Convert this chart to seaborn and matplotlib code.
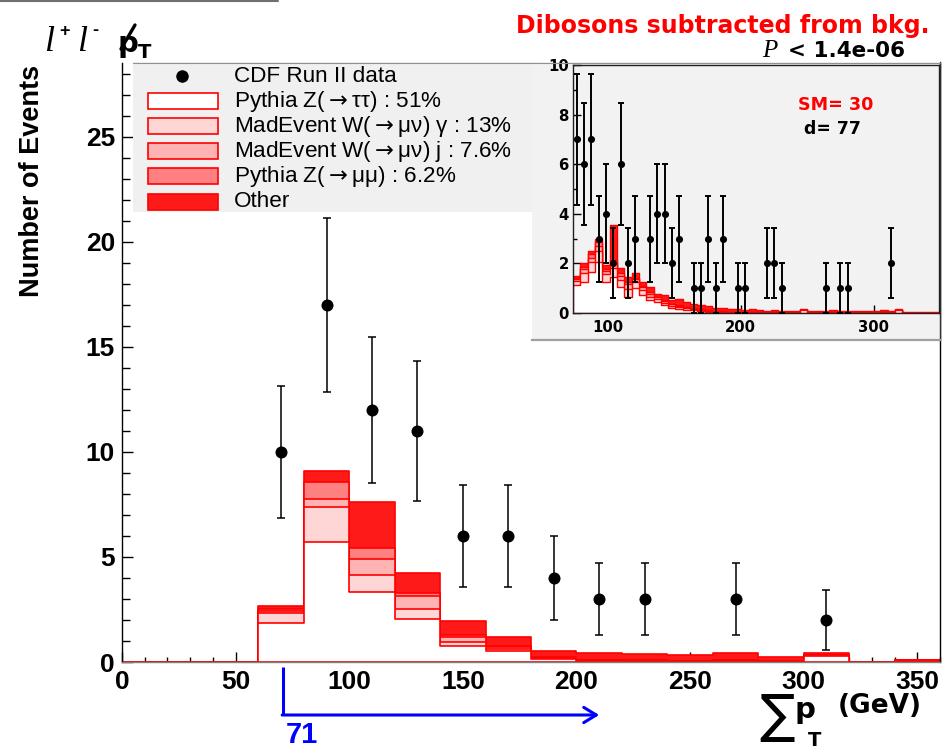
import numpy as np
import matplotlib
matplotlib.use("Agg")
import matplotlib.pyplot as plt
import matplotlib.transforms as mtransforms
from matplotlib.lines import Line2D
from matplotlib.patches import Rectangle
from matplotlib.ticker import MultipleLocator
import seaborn as sns

# ---------------------------------------------------------------- data
# main panel: 20 GeV bins from 0 to 360 GeV
main_edges = np.arange(0, 361, 20)
data_counts = [0, 0, 0, 10, 17, 12, 11, 6, 6, 4, 3, 3, 0, 3, 0, 2, 0, 0]
bkg_ztautau = [0, 0, 0, 1.84, 5.73, 3.35, 2.03, 0.76, 0.54, 0.13, 0.05, 0.04, 0.03, 0.05, 0.03, 0.29, 0.00, 0.07]
bkg_wgamma = [0, 0, 0, 0.48, 1.64, 0.81, 0.48, 0.21, 0.08, 0.04, 0.02, 0.02, 0.01, 0.02, 0.01, 0.02, 0.00, 0.01]
bkg_wjet = [0, 0, 0, 0.12, 0.38, 0.74, 0.63, 0.24, 0.08, 0.04, 0.02, 0.01, 0.01, 0.01, 0.00, 0.02, 0.00, 0.01]
bkg_zmumu = [0, 0, 0, 0.10, 0.84, 0.51, 0.13, 0.08, 0.06, 0.02, 0.01, 0.01, 0.00, 0.00, 0.00, 0.00, 0.00, 0.00]
bkg_other = [0, 0, 0, 0.13, 0.51, 2.21, 0.95, 0.65, 0.45, 0.31, 0.34, 0.32, 0.28, 0.34, 0.18, 0.08, 0.02, 0.01]

# inset: 5.5 GeV bins from 74 to 349 GeV
inset_edges = np.linspace(74, 349, 51)
inset_counts = [7, 6, 7, 3, 4, 2, 6, 2, 3, 0,
                3, 4, 4, 2, 3, 0, 1, 1, 3, 1,
                3, 0, 1, 1, 0, 0, 2, 2, 1, 0,
                0, 0, 0, 0, 1, 0, 1, 1, 0, 0,
                0, 0, 0, 2, 0, 0, 0, 0, 0, 0]
inset_ztautau = [1.12, 1.26, 1.66, 2.07, 1.26, 1.46, 1.05, 0.65, 1.00, 0.72,
                 0.51, 0.45, 0.31, 0.22, 0.18, 0.14, 0.11, 0.10, 0.06, 0.05,
                 0.04, 0.03, 0.03, 0.02, 0.02, 0.02, 0.01, 0.02, 0.01, 0.02,
                 0.01, 0.12, 0.02, 0.01, 0.02, 0.04, 0.02, 0.01, 0.01, 0.03,
                 0.02, 0.01, 0.06, 0.02, 0.12, 0.01, 0.01, 0.02, 0.01, 0.01]
inset_wgamma = [0.18, 0.35, 0.40, 0.45, 0.30, 0.35, 0.30, 0.30, 0.25, 0.20,
                0.15, 0.10, 0.10, 0.08, 0.06, 0.05, 0.04, 0.03, 0.03, 0.02,
                0.02, 0.02, 0.01, 0.01, 0.01, 0.01, 0.01, 0.01, 0.00, 0.01,
                0.00, 0.01, 0.01, 0.00, 0.01, 0.01, 0.01, 0.00, 0.00, 0.01,
                0.00, 0.00, 0.01, 0.00, 0.01, 0.00, 0.00, 0.00, 0.00, 0.00]
inset_wjet = [0.08, 0.15, 0.15, 0.18, 0.12, 0.20, 0.15, 0.20, 0.12, 0.12,
              0.12, 0.08, 0.08, 0.06, 0.05, 0.04, 0.03, 0.03, 0.02, 0.02,
              0.01, 0.01, 0.01, 0.01, 0.01, 0.00, 0.00, 0.00, 0.00, 0.00,
              0.00, 0.01, 0.00, 0.00, 0.00, 0.00, 0.00, 0.00, 0.00, 0.00,
              0.00, 0.00, 0.01, 0.00, 0.00, 0.00, 0.00, 0.00, 0.00, 0.00]
inset_zmumu = [0.05, 0.10, 0.15, 0.15, 0.10, 0.14, 0.10, 0.08, 0.05, 0.05,
               0.05, 0.03, 0.03, 0.02, 0.02, 0.02, 0.01, 0.01, 0.01, 0.01,
               0.01, 0.00, 0.00, 0.00, 0.00, 0.00, 0.00, 0.00, 0.00, 0.00,
               0.00, 0.00, 0.00, 0.00, 0.00, 0.00, 0.00, 0.00, 0.00, 0.00,
               0.00, 0.00, 0.00, 0.00, 0.00, 0.00, 0.00, 0.00, 0.00, 0.00]
inset_other = [0.06, 0.14, 0.14, 0.15, 0.15, 1.40, 0.20, 0.23, 0.20, 0.17,
               0.20, 0.12, 0.20, 0.13, 0.27, 0.20, 0.19, 0.17, 0.15, 0.12,
               0.14, 0.12, 0.11, 0.10, 0.11, 0.09, 0.08, 0.08, 0.08, 0.07,
               0.08, 0.04, 0.07, 0.07, 0.07, 0.07, 0.07, 0.07, 0.06, 0.06,
               0.06, 0.06, 0.06, 0.06, 0.04, 0.04, 0.03, 0.04, 0.04, 0.03]

legend_labels = ["CDF Run II data",
                 "Pythia Z($\\rightarrow$\u03c4\u03c4) : 51%",
                 "MadEvent W($\\rightarrow$\u03bc\u03bd) \u03b3 : 13%",
                 "MadEvent W($\\rightarrow$\u03bc\u03bd) j : 7.6%",
                 "Pythia Z($\\rightarrow$\u03bc\u03bc) : 6.2%",
                 "Other"]
main_xticks = [0, 50, 100, 150, 200, 250, 300, 350]
main_yticks = [0, 5, 10, 15, 20, 25]
inset_xticks = [100, 200, 300]
inset_yticks = [0, 2, 4, 6, 8, 10]
cut_value = 71
p_value_text = "< 1.4e-06"

# ---------------------------------------------------------------- style
sns.set_style("ticks")
plt.rcParams["font.family"] = ["Liberation Sans", "DejaVu Sans"]
plt.rcParams["mathtext.fontset"] = "dejavusans"
for key in ("text.color", "axes.labelcolor", "xtick.color", "ytick.color"):
    plt.rcParams[key] = "black"
WIDE = ["DejaVu Sans"]
SERIF = ["Liberation Serif", "DejaVu Serif"]
LINE_RED = "#ff0000"
LAYER_COLORS = ["white", "#ffd6d6", "#ffb3b3", "#ff8080", "#ff1a1a"]

W, H = 944, 755


def fx(px):
    return px / W


def fy(py):
    return 1 - py / H


def stacked_background(ax, edges, layers, lw):
    centers = 0.5 * (edges[:-1] + edges[1:])
    tops = np.cumsum(np.array(layers, dtype=float), axis=0)
    # draw from the full stack down so every lower sum overpaints the one above
    for top, fill in zip(tops[::-1], LAYER_COLORS[::-1]):
        sns.histplot(x=centers, weights=top, bins=list(edges), element="step",
                     fill=True, color=fill, alpha=1.0, edgecolor=LINE_RED,
                     linewidth=lw, ax=ax, legend=False, zorder=2)


def data_points(ax, edges, counts, size, cap, lw):
    centers = 0.5 * (edges[:-1] + edges[1:])
    counts = np.asarray(counts, dtype=float)
    keep = counts > 0
    ax.errorbar(centers[keep], counts[keep], yerr=np.sqrt(counts[keep]),
                fmt="none", ecolor="black", elinewidth=lw, capsize=cap,
                capthick=lw, zorder=4)
    sns.scatterplot(x=centers[keep], y=counts[keep], color="black", s=size,
                    linewidth=0, ax=ax, legend=False, zorder=5)


fig = plt.figure(figsize=(W / 100, H / 100), dpi=100)
fig.patch.set_facecolor("white")

# ---------------------------------------------------------------- main panel
ax = fig.add_axes([fx(122), fy(662), (940 - 122) / W, (662 - 63) / H])
ax.set_facecolor("white")
layers = [bkg_ztautau, bkg_wgamma, bkg_wjet, bkg_zmumu, bkg_other]
stacked_background(ax, main_edges, layers, 1.2)
data_points(ax, main_edges, data_counts, 75, 2.7, 1.1)

ax.set_xlim(0, 360)
ax.set_ylim(0, 28.52)
ax.set_xlabel("")
ax.set_ylabel("")
ax.set_xticks(main_xticks)
ax.set_yticks(main_yticks)
ax.xaxis.set_minor_locator(MultipleLocator(10))
ax.yaxis.set_minor_locator(MultipleLocator(1))
ax.tick_params(axis="x", which="major", direction="in", length=7, width=1,
               labelsize=19, pad=6, top=False, colors="black")
ax.tick_params(axis="x", which="minor", direction="in", length=3.5, width=1, top=False)
ax.tick_params(axis="y", which="major", direction="in", length=8, width=1,
               labelsize=19, pad=5, right=False, colors="black")
ax.tick_params(axis="y", which="minor", direction="in", length=6, width=1, right=False)
for lab in ax.get_xticklabels() + ax.get_yticklabels():
    lab.set_fontweight("bold")
ax.spines["top"].set_visible(False)
ax.spines["bottom"].set_color("#808080")
ax.spines["left"].set_color("black")
ax.spines["right"].set_color("black")
for s in ax.spines.values():
    s.set_linewidth(1.0)

# ---------------------------------------------------------------- inset pad
pad = fig.add_axes([fx(532), fy(340), (940 - 532) / W, (340 - 62) / H])
pad.set_facecolor("#f2f2f2")
pad.set_xticks([])
pad.set_yticks([])
for side in ("left", "top"):
    pad.spines[side].set_visible(False)
pad.spines["bottom"].set_color("#a0a0a0")
pad.spines["bottom"].set_linewidth(1.6)
pad.spines["right"].set_color("#303030")
pad.spines["right"].set_linewidth(1.0)

ins = fig.add_axes([fx(573), fy(313), (939 - 573) / W, (313 - 65) / H])
ins.set_facecolor("#f2f2f2")
inset_layers = [inset_ztautau, inset_wgamma, inset_wjet, inset_zmumu, inset_other]
stacked_background(ins, inset_edges, inset_layers, 1.0)
data_points(ins, inset_edges, inset_counts, 26, 2.2, 1.4)
ins.set_xlim(74, 349)
ins.set_ylim(0, 10)
ins.set_xlabel("")
ins.set_ylabel("")
ins.set_xticks(inset_xticks)
ins.set_yticks(inset_yticks)
ins.yaxis.set_minor_locator(MultipleLocator(1))
ins.tick_params(axis="both", which="major", direction="in", length=6, width=1,
                labelsize=10.7, top=False, right=False, colors="black")
ins.tick_params(axis="x", which="major", pad=5)
ins.tick_params(axis="y", which="major", pad=3)
ins.tick_params(axis="y", which="minor", direction="in", length=3, width=1, right=False)
for lab in ins.get_xticklabels() + ins.get_yticklabels():
    lab.set_fontweight("bold")
    lab.set_family(WIDE)
for s in ins.spines.values():
    s.set_color("#202020")
    s.set_linewidth(1.0)

sm_total = float(np.sum(layers))
d_total = int(np.sum(data_counts))
ins.text(fx(798), fy(105), f"SM= {sm_total:.0f}", transform=fig.transFigure,
         color="#ff0000", fontweight="bold", family=WIDE, fontsize=12.6,
         ha="left", va="center")
ins.text(fx(804), fy(129), f"d= {d_total}", transform=fig.transFigure,
         color="black", fontweight="bold", family=WIDE, fontsize=12.4,
         ha="left", va="center")

# ---------------------------------------------------------------- legend box
lg = fig.add_axes([fx(133), fy(212), (532 - 133) / W, (212 - 62) / H])
lg.set_facecolor("#f0f0f0")
lg.set_xlim(0, 399)
lg.set_ylim(150, 0)
lg.set_xticks([])
lg.set_yticks([])
for s in lg.spines.values():
    s.set_visible(False)
for i, label in enumerate(legend_labels):
    yc = 14 + 25.1 * i
    if i == 0:
        lg.plot([49], [yc], marker="o", ms=8, color="black", ls="none")
    else:
        lg.add_patch(Rectangle((15, yc - 8), 70, 16, facecolor=LAYER_COLORS[i - 1],
                               edgecolor=LINE_RED, linewidth=1.2))
    lg.text(101, yc, label, va="center", ha="left", fontsize=16.2, color="black",
            family=["Liberation Sans", "DejaVu Sans"])

# frame line along the top of the legend and pad, and the stray rule at the top
fig.add_artist(Line2D([fx(133), fx(940)], [fy(62.5), fy(62.5)], color="#909090", lw=0.8))
fig.add_artist(Line2D([0, fx(278)], [fy(1), fy(1)], color="#707070", lw=1.5))

# ---------------------------------------------------------------- titles
fig.text(fx(44), fy(51), "l", family=SERIF, style="italic", fontsize=26, va="baseline")
fig.text(fx(59), fy(36), "+", fontweight="bold", fontsize=13, va="baseline")
fig.text(fx(77), fy(51), "l", family=SERIF, style="italic", fontsize=26, va="baseline")
fig.text(fx(92), fy(35), "-", fontweight="bold", fontsize=13, va="baseline")
fig.text(fx(117), fy(52), "p", fontweight="bold", family=WIDE, fontsize=21, va="baseline")
fig.add_artist(Line2D([fx(121), fx(135)], [fy(49), fy(25)], color="black", lw=2.4))
fig.text(fx(138), fy(58), "T", fontweight="bold", family=WIDE, fontsize=14, va="baseline")

fig.text(fx(930), fy(33), "Dibosons subtracted from bkg.", color="#ff0000",
         fontweight="bold", family=WIDE, fontsize=17, ha="right", va="baseline")
fig.text(fx(905), fy(57), p_value_text, color="black", fontweight="bold",
         family=WIDE, fontsize=15.5, ha="right", va="baseline")
fig.text(fx(762), fy(57), "P", family=SERIF, style="italic", fontsize=18,
         ha="left", va="baseline")

fig.text(fx(32), fy(181), "Number of Events", rotation=90, fontweight="bold",
         fontsize=19.5, ha="center", va="center", color="black")

fig.text(fx(777), fy(717), "\u2211", family=["DejaVu Sans"], fontsize=38,
         ha="center", va="center")
fig.text(fx(805), fy(710), "p", fontweight="bold", family=WIDE, fontsize=21,
         ha="center", va="center")
fig.text(fx(815), fy(741), "T", fontweight="bold", family=WIDE, fontsize=14,
         ha="center", va="center")
fig.text(fx(838), fy(706), "(GeV)", fontweight="bold", family=WIDE, fontsize=19,
         ha="left", va="center")

# ---------------------------------------------------------------- cut arrow
trans = mtransforms.blended_transform_factory(ax.transData, fig.transFigure)
arrow_end = 210
fig.add_artist(Line2D([cut_value, cut_value], [fy(667), fy(715)], transform=trans,
                      color="#0000ff", lw=2.2, solid_capstyle="butt"))
ax.annotate("", xy=(arrow_end, fy(715)), xycoords=trans,
            xytext=(cut_value - 0.5, fy(715)), textcoords=trans,
            arrowprops=dict(arrowstyle="->,head_length=0.9,head_width=0.55",
                            color="#0000ff", lw=2.2, shrinkA=0, shrinkB=0),
            annotation_clip=False)
ax.text(cut_value + 1, fy(735), str(cut_value), transform=trans, color="#0000ff",
        fontweight="bold", fontsize=21, ha="left", va="center", clip_on=False)

fig.savefig("out.png", dpi=100, facecolor="white")
